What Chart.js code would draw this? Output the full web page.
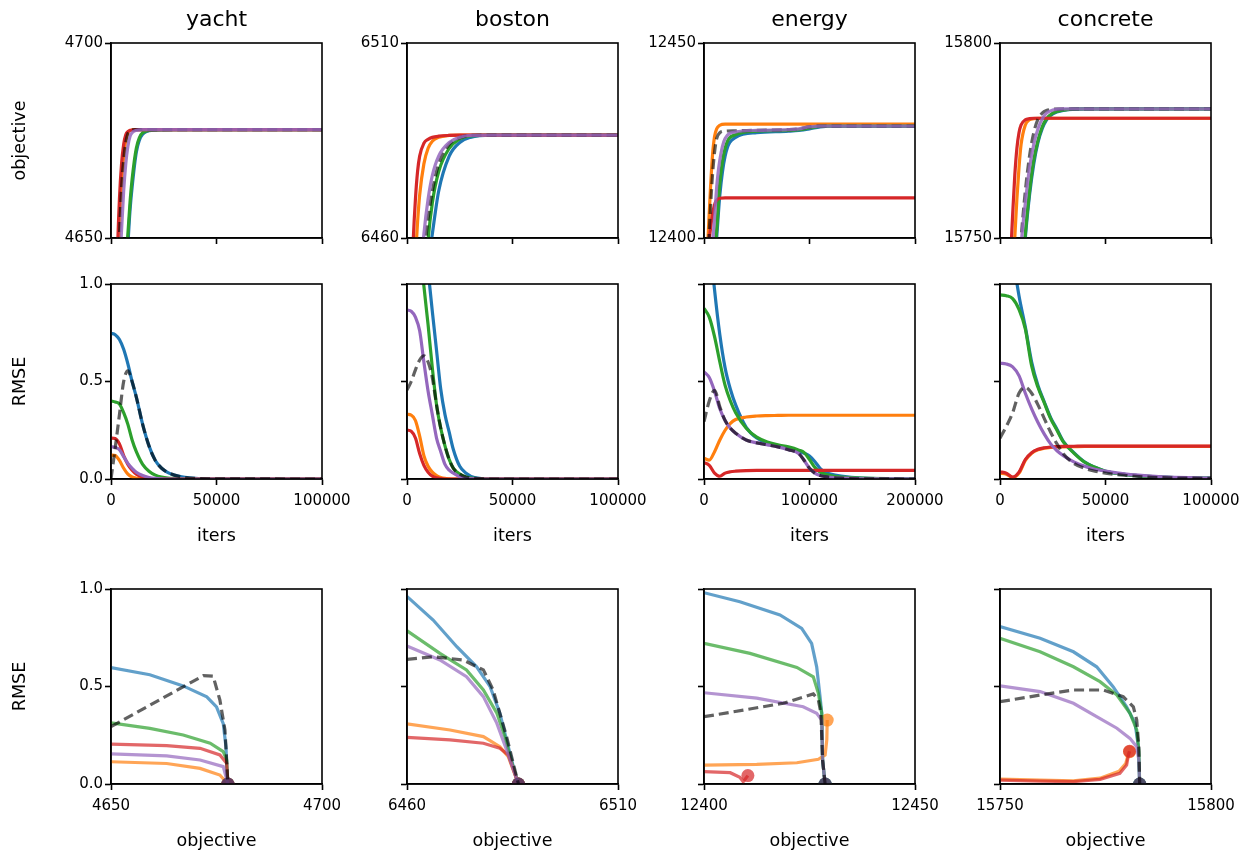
<!DOCTYPE html>
<html><head><meta charset="utf-8">
<script src="https://cdn.jsdelivr.net/npm/chart.js@4.4.1/dist/chart.umd.min.js"></script>
<style>
html,body{margin:0;padding:0;background:#fff;}
body{width:1257px;height:856px;position:relative;overflow:hidden;}
canvas{position:absolute;}
</style></head><body>
<script>
// ---------------- data ----------------
const datasetNames = ['yacht', 'boston', 'energy', 'concrete'];
const objRanges = [[4650, 4700], [6460, 6510], [12400, 12450], [15750, 15800]];
const iterMax = [100000, 100000, 200000, 100000];
const iterTicks = [[0, 50000, 100000], [0, 50000, 100000], [0, 100000, 200000], [0, 50000, 100000]];
const rmseTicks = [0, 0.5, 1.0];

// Row 1: objective vs iters
const yachtObjIters  = [0, 2000, 3000, 4000, 5000, 6000, 7000, 8000, 9000, 10000, 12000, 15000, 20000, 30000, 100000];
const yachtObjBlue   = [4440, 4510, 4545, 4578, 4602, 4622, 4637, 4648, 4657, 4663, 4672, 4676.6, 4677.6, 4677.8, 4677.8];
const yachtObjOrange = [4540, 4610, 4635, 4652, 4664, 4671, 4675, 4677, 4677.5, 4677.7, 4677.8, 4677.8, 4677.8, 4677.8, 4677.8];
const yachtObjGreen  = [4450, 4520, 4555, 4585, 4608, 4627, 4641, 4651, 4659, 4665, 4673, 4677, 4677.7, 4677.8, 4677.8];
const yachtObjRed    = [4550, 4620, 4645, 4660, 4669, 4674, 4676.5, 4677.3, 4677.6, 4677.7, 4677.8, 4677.8, 4677.8, 4677.8, 4677.8];
const yachtObjPurple = [4520, 4590, 4620, 4640, 4652, 4662, 4669, 4673.5, 4676, 4677, 4677.6, 4677.8, 4677.8, 4677.8, 4677.8];
const yachtObjDashed = [4540, 4605, 4632, 4650, 4663, 4670, 4674.5, 4676.8, 4677.4, 4677.7, 4677.8, 4677.8, 4677.8, 4677.8, 4677.8];

const bostonObjIters  = [0, 2000, 3000, 4000, 5000, 6000, 8000, 10000, 12000, 15000, 20000, 25000, 30000, 40000, 100000];
const bostonObjBlue   = [6350, 6385, 6392, 6400, 6409, 6418, 6435, 6453, 6461, 6472, 6481, 6484.5, 6485.8, 6486.4, 6486.4];
const bostonObjOrange = [6390, 6430, 6445, 6455, 6464, 6471, 6479, 6483, 6484.8, 6485.8, 6486.3, 6486.4, 6486.4, 6486.4, 6486.4];
const bostonObjGreen  = [6360, 6395, 6403, 6410, 6419, 6427, 6443, 6459.5, 6469, 6477, 6483, 6485.4, 6486.2, 6486.4, 6486.4];
const bostonObjRed    = [6400, 6445, 6460, 6470, 6477, 6481, 6484.3, 6485.3, 6485.8, 6486.1, 6486.3, 6486.4, 6486.4, 6486.4, 6486.4];
const bostonObjPurple = [6380, 6415, 6423, 6430, 6440, 6448, 6461, 6470, 6476, 6481, 6484.5, 6485.8, 6486.3, 6486.4, 6486.4];
const bostonObjDashed = [6380, 6412, 6419, 6425, 6434, 6442, 6455, 6465, 6472, 6479, 6484, 6485.7, 6486.3, 6486.4, 6486.4];

const energyObjIters  = [0, 2000, 4000, 6000, 8000, 10000, 12000, 15000, 20000, 30000, 50000, 80000, 90000, 100000, 110000, 120000, 200000];
const energyObjBlue   = [12320, 12345, 12365, 12377, 12386, 12393, 12400, 12411, 12421, 12425.8, 12427, 12427.4, 12427.6, 12428, 12428.5, 12428.7, 12428.7];
const energyObjOrange = [12370, 12390, 12401, 12412, 12421, 12426, 12428, 12428.9, 12429.2, 12429.2, 12429.2, 12429.2, 12429.2, 12429.2, 12429.2, 12429.2, 12429.2];
const energyObjGreen  = [12330, 12352, 12370, 12381, 12390, 12396, 12402, 12414, 12423, 12426.5, 12427.4, 12427.6, 12427.8, 12428.2, 12428.6, 12428.7, 12428.7];
const energyObjRed    = [12370, 12388, 12397, 12402, 12406, 12408.5, 12409.7, 12410.2, 12410.3, 12410.3, 12410.3, 12410.3, 12410.3, 12410.3, 12410.3, 12410.3, 12410.3];
const energyObjPurple = [12340, 12362, 12380, 12390, 12398, 12405, 12413, 12420, 12425.5, 12427.2, 12427.6, 12427.8, 12428, 12428.5, 12428.7, 12428.7, 12428.7];
const energyObjDashed = [12360, 12382, 12396, 12407, 12416, 12422, 12425.5, 12427, 12427.4, 12427.5, 12427.6, 12427.8, 12428, 12428.5, 12428.7, 12428.7, 12428.7];

const concreteObjIters  = [0, 2000, 4000, 5000, 6000, 7000, 8000, 9000, 10000, 12000, 14000, 16000, 18000, 20000, 22000, 25000, 30000, 40000, 100000];
const concreteObjBlue   = [15615, 15646, 15676, 15686, 15696, 15705, 15715, 15724, 15734, 15750, 15761, 15769, 15774.5, 15778, 15780.2, 15781.8, 15782.7, 15783.1, 15783.1];
const concreteObjOrange = [15670, 15700, 15722, 15731, 15740, 15750, 15760, 15768, 15774, 15779, 15780.3, 15780.6, 15780.7, 15780.7, 15780.7, 15780.7, 15780.7, 15780.7, 15780.7];
const concreteObjGreen  = [15620, 15650, 15680, 15690, 15700, 15709, 15718, 15727, 15736, 15751, 15762, 15770, 15775, 15778.5, 15780.5, 15782, 15782.8, 15783.1, 15783.1];
const concreteObjRed    = [15680, 15710, 15735, 15745, 15756, 15766, 15773, 15777, 15779, 15780.3, 15780.6, 15780.7, 15780.7, 15780.7, 15780.7, 15780.7, 15780.7, 15780.7, 15780.7];
const concreteObjPurple = [15640, 15665, 15690, 15700, 15710, 15719, 15728, 15738, 15748, 15759, 15768, 15774, 15778, 15780.5, 15782, 15782.8, 15783.1, 15783.1, 15783.1];
const concreteObjDashed = [15640, 15668, 15695, 15705, 15715, 15725, 15735, 15743, 15750, 15762, 15771, 15777, 15780.5, 15782, 15782.7, 15783, 15783.1, 15783.1, 15783.1];

// Row 2: RMSE vs iters
const yachtRmseIters  = [0, 2000, 4000, 6000, 8000, 10000, 12000, 15000, 18000, 21000, 24000, 27000, 30000, 35000, 40000, 50000, 100000];
const yachtRmseBlue   = [0.747, 0.74, 0.715, 0.665, 0.59, 0.5, 0.42, 0.28, 0.17, 0.095, 0.055, 0.033, 0.02, 0.008, 0.003, 0.001, 0];
const yachtRmseOrange = [0.123, 0.12, 0.095, 0.055, 0.025, 0.01, 0.004, 0.001, 0, 0, 0, 0, 0, 0, 0, 0, 0];
const yachtRmseGreen  = [0.40, 0.395, 0.385, 0.34, 0.28, 0.2, 0.14, 0.075, 0.04, 0.02, 0.01, 0.005, 0.003, 0.001, 0, 0, 0];
const yachtRmseRed    = [0.21, 0.208, 0.18, 0.12, 0.075, 0.045, 0.025, 0.01, 0.004, 0.001, 0, 0, 0, 0, 0, 0, 0];
const yachtRmsePurple = [0.165, 0.163, 0.15, 0.115, 0.08, 0.055, 0.035, 0.018, 0.008, 0.003, 0.001, 0, 0, 0, 0, 0, 0];
const yachtRmseDashed = [0, 0.16, 0.33, 0.5, 0.555, 0.5, 0.42, 0.28, 0.17, 0.095, 0.055, 0.033, 0.02, 0.008, 0.003, 0.001, 0];

const bostonRmseIters  = [0, 2000, 4000, 6000, 8000, 10000, 12000, 14000, 16000, 18000, 20000, 22000, 25000, 28000, 32000, 40000, 100000];
const bostonRmseBlue   = [1.5, 1.49, 1.46, 1.4, 1.28, 1.07, 0.86, 0.66, 0.46, 0.33, 0.24, 0.15, 0.065, 0.03, 0.008, 0.001, 0];
const bostonRmseOrange = [0.332, 0.328, 0.3, 0.22, 0.12, 0.065, 0.035, 0.018, 0.008, 0.003, 0.001, 0, 0, 0, 0, 0, 0];
const bostonRmseGreen  = [1.45, 1.42, 1.36, 1.22, 0.99, 0.79, 0.57, 0.38, 0.26, 0.17, 0.1, 0.055, 0.025, 0.01, 0.003, 0, 0];
const bostonRmseRed    = [0.251, 0.245, 0.21, 0.13, 0.07, 0.035, 0.015, 0.006, 0.002, 0, 0, 0, 0, 0, 0, 0, 0];
const bostonRmsePurple = [0.867, 0.86, 0.83, 0.76, 0.6, 0.45, 0.33, 0.21, 0.14, 0.075, 0.045, 0.03, 0.012, 0.004, 0.001, 0, 0];
const bostonRmseDashed = [0.456, 0.5, 0.56, 0.61, 0.632, 0.6, 0.52, 0.38, 0.26, 0.17, 0.1, 0.055, 0.025, 0.01, 0.003, 0, 0];

const energyRmseIters  = [0, 5000, 10000, 15000, 20000, 25000, 30000, 40000, 50000, 60000, 70000, 80000, 90000, 95000, 100000, 105000, 110000, 115000, 120000, 130000, 150000, 200000];
const energyRmseBlue   = [1.6, 1.25, 0.97, 0.74, 0.57, 0.46, 0.38, 0.265, 0.21, 0.185, 0.17, 0.158, 0.143, 0.132, 0.118, 0.09, 0.055, 0.035, 0.025, 0.015, 0.005, 0];
const energyRmseOrange = [0.106, 0.097, 0.14, 0.2, 0.25, 0.285, 0.305, 0.318, 0.323, 0.325, 0.326, 0.327, 0.327, 0.327, 0.327, 0.327, 0.327, 0.327, 0.327, 0.327, 0.327, 0.327];
const energyRmseGreen  = [0.875, 0.83, 0.73, 0.6, 0.48, 0.4, 0.34, 0.26, 0.215, 0.19, 0.175, 0.165, 0.148, 0.135, 0.1, 0.06, 0.035, 0.024, 0.018, 0.01, 0.004, 0];
const energyRmseRed    = [0.084, 0.07, 0.03, 0.014, 0.03, 0.037, 0.04, 0.043, 0.044, 0.044, 0.044, 0.044, 0.044, 0.044, 0.044, 0.044, 0.044, 0.044, 0.044, 0.044, 0.044, 0.044];
const energyRmsePurple = [0.55, 0.52, 0.45, 0.36, 0.3, 0.26, 0.235, 0.2, 0.185, 0.175, 0.165, 0.15, 0.13, 0.095, 0.055, 0.03, 0.018, 0.012, 0.008, 0.004, 0.001, 0];
const energyRmseDashed = [0.294, 0.4, 0.455, 0.37, 0.3, 0.26, 0.235, 0.2, 0.185, 0.175, 0.165, 0.15, 0.13, 0.095, 0.055, 0.03, 0.018, 0.012, 0.008, 0.004, 0.001, 0];

const concreteRmseIters  = [0, 3000, 6000, 9000, 12000, 15000, 18000, 21000, 24000, 27000, 30000, 35000, 40000, 45000, 50000, 60000, 70000, 80000, 100000];
const concreteRmseBlue   = [1.6, 1.4, 1.15, 0.94, 0.78, 0.6, 0.48, 0.395, 0.315, 0.255, 0.193, 0.135, 0.088, 0.06, 0.04, 0.022, 0.013, 0.008, 0.004];
const concreteRmseOrange = [0.03, 0.025, 0.008, 0.03, 0.095, 0.132, 0.15, 0.158, 0.162, 0.164, 0.165, 0.166, 0.167, 0.167, 0.167, 0.167, 0.167, 0.167, 0.167];
const concreteRmseGreen  = [0.944, 0.94, 0.925, 0.87, 0.77, 0.58, 0.47, 0.39, 0.31, 0.25, 0.19, 0.133, 0.087, 0.06, 0.04, 0.022, 0.013, 0.008, 0.004];
const concreteRmseRed    = [0.037, 0.03, 0.01, 0.035, 0.1, 0.135, 0.152, 0.16, 0.164, 0.166, 0.167, 0.168, 0.169, 0.169, 0.169, 0.169, 0.169, 0.169, 0.169];
const concreteRmsePurple = [0.593, 0.59, 0.575, 0.53, 0.44, 0.36, 0.29, 0.23, 0.18, 0.145, 0.12, 0.088, 0.066, 0.05, 0.04, 0.025, 0.016, 0.01, 0.005];
const concreteRmseDashed = [0.209, 0.27, 0.34, 0.44, 0.47, 0.44, 0.38, 0.31, 0.24, 0.18, 0.13, 0.08, 0.055, 0.04, 0.03, 0.018, 0.01, 0.006, 0.003];

// Row 3: RMSE vs objective  ([objective, RMSE] pairs)
const yachtFrontBlue   = [[4640, 0.625], [4650, 0.597], [4659.2, 0.56], [4667.1, 0.503], [4672.7, 0.447], [4675, 0.396], [4676.6, 0.31], [4677.25, 0.19], [4677.55, 0.02], [4677.7, 0]];
const yachtFrontOrange = [[4640, 0.118], [4650, 0.114], [4663.2, 0.105], [4671.1, 0.08], [4675.8, 0.046], [4677.7, 0]];
const yachtFrontGreen  = [[4640, 0.325], [4650, 0.314], [4659.2, 0.285], [4667.1, 0.251], [4673.5, 0.209], [4676.6, 0.166], [4677.4, 0.123], [4677.7, 0]];
const yachtFrontRed    = [[4640, 0.21], [4650, 0.205], [4663.2, 0.197], [4671.1, 0.183], [4675.8, 0.149], [4677.4, 0.106], [4677.7, 0]];
const yachtFrontPurple = [[4640, 0.16], [4650, 0.154], [4663.2, 0.144], [4671.1, 0.123], [4676.6, 0.089], [4677.7, 0]];
const yachtFrontDashed = [[4650, 0.294], [4671.9, 0.556], [4674.2, 0.553], [4675.8, 0.431], [4677, 0.277], [4677.4, 0.123], [4677.7, 0]];

const bostonFrontBlue   = [[6458, 0.99], [6460, 0.962], [6466.2, 0.841], [6471.8, 0.704], [6476.5, 0.601], [6479.7, 0.499], [6482, 0.363], [6484, 0.191], [6485.6, 0.055], [6486.4, 0]];
const bostonFrontOrange = [[6458, 0.31], [6460, 0.308], [6470.2, 0.277], [6478.1, 0.243], [6482, 0.191], [6484, 0.14], [6486.4, 0]];
const bostonFrontGreen  = [[6458, 0.8], [6460, 0.786], [6467.8, 0.67], [6474.1, 0.585], [6478.1, 0.482], [6481.3, 0.363], [6483.2, 0.243], [6484.4, 0.14], [6486.4, 0]];
const bostonFrontRed    = [[6458, 0.24], [6460, 0.239], [6470.2, 0.226], [6478.1, 0.209], [6482, 0.183], [6484, 0.149], [6486.4, 0]];
const bostonFrontPurple = [[6458, 0.72], [6460, 0.708], [6467.8, 0.636], [6474.1, 0.55], [6478.1, 0.448], [6481.3, 0.311], [6483.6, 0.174], [6486.4, 0]];
const bostonFrontDashed = [[6460, 0.639], [6466.2, 0.653], [6473.3, 0.636], [6478.1, 0.585], [6480.4, 0.482], [6482, 0.363], [6483.6, 0.243], [6486.4, 0]];

const energyFrontBlue   = [[12400, 0.981], [12408.5, 0.935], [12418, 0.867], [12423.15, 0.798], [12425.5, 0.721], [12426.7, 0.601], [12427.5, 0.448], [12427.9, 0.363], [12428.1, 0.123], [12428.7, 0]];
const energyFrontOrange = [[12400, 0.097], [12412.5, 0.101], [12422, 0.109], [12427.1, 0.127], [12428.7, 0.149], [12429.1, 0.226], [12429.2, 0.328]];
const energyFrontGreen  = [[12400, 0.721], [12410.9, 0.67], [12422, 0.598], [12425.9, 0.55], [12427.1, 0.465], [12427.9, 0.363], [12428.1, 0.123], [12428.7, 0]];
const energyFrontRed    = [[12400, 0.063], [12406.2, 0.058], [12408.5, 0.035], [12409.3, 0.012], [12410.4, 0.043]];
const energyFrontPurple = [[12400, 0.468], [12412.5, 0.44], [12423.5, 0.396], [12426.7, 0.363], [12427.9, 0.328], [12428.1, 0.123], [12428.7, 0]];
const energyFrontDashed = [[12400, 0.345], [12409.3, 0.379], [12418.8, 0.414], [12425.9, 0.462], [12427.1, 0.431], [12427.7, 0.363], [12428.1, 0.123], [12428.7, 0]];

const concreteFrontBlue   = [[15748, 0.815], [15750, 0.807], [15759.5, 0.747], [15767.4, 0.678], [15772.9, 0.601], [15776.8, 0.499], [15780, 0.396], [15782, 0.311], [15782.8, 0.191], [15783.1, 0]];
const concreteFrontOrange = [[15748, 0.026], [15750, 0.025], [15759.5, 0.02], [15767.4, 0.016], [15773.7, 0.03], [15778.2, 0.065], [15779.8, 0.105], [15780.3, 0.145], [15780.7, 0.166]];
const concreteFrontGreen  = [[15748, 0.755], [15750, 0.747], [15759.5, 0.678], [15767.4, 0.601], [15773.7, 0.525], [15777.7, 0.456], [15780.8, 0.363], [15782.4, 0.277], [15782.9, 0.17], [15783.1, 0]];
const concreteFrontRed    = [[15748, 0.022], [15750, 0.02], [15759.5, 0.015], [15767.4, 0.012], [15773.7, 0.024], [15778.4, 0.055], [15780, 0.097], [15780.4, 0.145], [15780.7, 0.168]];
const concreteFrontPurple = [[15748, 0.51], [15750, 0.503], [15759.5, 0.474], [15767.4, 0.414], [15772.9, 0.345], [15777.7, 0.286], [15780.8, 0.234], [15782.4, 0.191], [15782.9, 0.123], [15783.1, 0]];
const concreteFrontDashed = [[15750, 0.422], [15759.5, 0.456], [15767.4, 0.482], [15774.5, 0.482], [15779.2, 0.448], [15781.6, 0.396], [15782.4, 0.328], [15782.9, 0.191], [15783.1, 0]];

// ---------------- assembly ----------------
const seriesKeys = ['blue', 'orange', 'green', 'red', 'purple', 'dashed'];
const seriesRGB = {blue: '31,119,180', orange: '255,127,14', green: '44,160,44', red: '214,39,40', purple: '148,103,189', dashed: '0,0,0'};

const objRows = [
  {iters: yachtObjIters, blue: yachtObjBlue, orange: yachtObjOrange, green: yachtObjGreen, red: yachtObjRed, purple: yachtObjPurple, dashed: yachtObjDashed},
  {iters: bostonObjIters, blue: bostonObjBlue, orange: bostonObjOrange, green: bostonObjGreen, red: bostonObjRed, purple: bostonObjPurple, dashed: bostonObjDashed},
  {iters: energyObjIters, blue: energyObjBlue, orange: energyObjOrange, green: energyObjGreen, red: energyObjRed, purple: energyObjPurple, dashed: energyObjDashed},
  {iters: concreteObjIters, blue: concreteObjBlue, orange: concreteObjOrange, green: concreteObjGreen, red: concreteObjRed, purple: concreteObjPurple, dashed: concreteObjDashed}
];
const rmseRows = [
  {iters: yachtRmseIters, blue: yachtRmseBlue, orange: yachtRmseOrange, green: yachtRmseGreen, red: yachtRmseRed, purple: yachtRmsePurple, dashed: yachtRmseDashed},
  {iters: bostonRmseIters, blue: bostonRmseBlue, orange: bostonRmseOrange, green: bostonRmseGreen, red: bostonRmseRed, purple: bostonRmsePurple, dashed: bostonRmseDashed},
  {iters: energyRmseIters, blue: energyRmseBlue, orange: energyRmseOrange, green: energyRmseGreen, red: energyRmseRed, purple: energyRmsePurple, dashed: energyRmseDashed},
  {iters: concreteRmseIters, blue: concreteRmseBlue, orange: concreteRmseOrange, green: concreteRmseGreen, red: concreteRmseRed, purple: concreteRmsePurple, dashed: concreteRmseDashed}
];
const frontRows = [
  {blue: yachtFrontBlue, orange: yachtFrontOrange, green: yachtFrontGreen, red: yachtFrontRed, purple: yachtFrontPurple, dashed: yachtFrontDashed},
  {blue: bostonFrontBlue, orange: bostonFrontOrange, green: bostonFrontGreen, red: bostonFrontRed, purple: bostonFrontPurple, dashed: bostonFrontDashed},
  {blue: energyFrontBlue, orange: energyFrontOrange, green: energyFrontGreen, red: energyFrontRed, purple: energyFrontPurple, dashed: energyFrontDashed},
  {blue: concreteFrontBlue, orange: concreteFrontOrange, green: concreteFrontGreen, red: concreteFrontRed, purple: concreteFrontPurple, dashed: concreteFrontDashed}
];

// layout
const L = 101, R = 101, T = 40, B = 75, PW = 211, PH = 195;
const plotLefts = [111, 407, 704, 1000];
const plotTops = [43, 284, 589];

Chart.defaults.font.family = "'DejaVu Sans', sans-serif";
Chart.defaults.color = '#000';

const framePlugin = {
  id: 'frame',
  afterDatasetsDraw(chart) {
    const {ctx, chartArea: a} = chart;
    ctx.save();
    ctx.strokeStyle = '#000';
    ctx.lineWidth = 1.6;
    ctx.strokeRect(a.left, a.top, a.right - a.left, a.bottom - a.top);
    ctx.restore();
  }
};

function makeDataset(key, points, row) {
  let alpha = 1;
  if (key === 'dashed') alpha = 0.62;
  else if (row === 2) alpha = 0.7;
  else if (row === 0 && key === 'purple') alpha = 0.85;
  const color = 'rgba(' + seriesRGB[key] + ',' + alpha + ')';
  const markerColor = key === 'dashed' ? 'rgba(0,0,0,0.35)' : color;
  const order = row === 0
    ? {blue: 6, orange: 5, green: 4, red: 3, dashed: 2, purple: 1}
    : {blue: 6, orange: 5, green: 4, red: 3, purple: 2, dashed: 1};
  const last = points.length - 1;
  return {
    data: points,
    showLine: true,
    borderColor: color,
    backgroundColor: markerColor,
    pointBackgroundColor: markerColor,
    borderWidth: 3.2,
    borderDash: key === 'dashed' ? [10, 5] : [],
    pointRadius: row === 2 ? (c => c.dataIndex === last ? 6.5 : 0) : 0,
    pointHoverRadius: 0,
    pointBorderWidth: 0,
    cubicInterpolationMode: row === 2 ? 'default' : 'monotone',
    tension: 0,
    clip: 0,
    order: order[key]
  };
}

function scaleCfg(s, isX) {
  return {
    type: 'linear',
    position: isX ? 'bottom' : 'left',
    min: s.min, max: s.max,
    afterBuildTicks: sc => { sc.ticks = s.ticks.map(v => ({value: v})); },
    afterFit: sc => { if (isX) sc.height = B; else sc.width = L; },
    ticks: {
      autoSkip: false, maxRotation: 0, minRotation: 0, color: '#000',
      font: {size: 15}, padding: isX ? 7 : 2,
      callback: v => s.labels ? s.fmt(v) : ''
    },
    grid: {display: true, drawOnChartArea: false, drawTicks: true, tickLength: 6, tickWidth: 1.6, tickColor: '#000', color: '#000'},
    border: {display: true, color: '#000', width: 1.6},
    title: {
      display: !!s.title, text: s.title || '', color: '#000', font: {size: 17.5},
      padding: isX ? {top: 0, bottom: 7.5} : {top: 0, bottom: 0}
    }
  };
}

// empty right-hand axis that only reserves the right margin (keeps the title centred on the plot)
const spacerAxis = {
  type: 'linear', position: 'right', display: true,
  grid: {display: false}, border: {display: false}, ticks: {display: false},
  afterFit: sc => { sc.width = R; }
};

function makePanel(col, row, datasets, xs, ys) {
  const cv = document.createElement('canvas');
  cv.width = L + PW + R;
  cv.height = T + PH + B;
  cv.style.left = (plotLefts[col] - L) + 'px';
  cv.style.top = (plotTops[row] - T) + 'px';
  document.body.appendChild(cv);
  new Chart(cv, {
    type: 'scatter',
    data: {datasets},
    options: {
      responsive: false, animation: false, devicePixelRatio: 1,
      layout: {padding: {top: row === 0 ? 0 : T, right: 0, left: 0, bottom: 0}},
      events: [],
      plugins: {
        legend: {display: false},
        tooltip: {enabled: false},
        title: {
          display: row === 0, text: datasetNames[col], color: '#000',
          font: {size: 22, weight: 'normal'}, padding: {top: 3.8, bottom: 9.8}
        }
      },
      scales: {x: scaleCfg(xs, true), y: scaleCfg(ys, false), yspace: spacerAxis}
    },
    plugins: [framePlugin]
  });
}

const fmtInt = v => String(v);
const fmtRmse = v => v.toFixed(1);

for (let c = 0; c < 4; c++) {
  const [omin, omax] = objRanges[c];
  const o = objRows[c];
  makePanel(c, 0,
    seriesKeys.map(k => makeDataset(k, o.iters.map((x, i) => ({x, y: o[k][i]})), 0)),
    {min: 0, max: iterMax[c], ticks: iterTicks[c], labels: false, fmt: fmtInt},
    {min: omin, max: omax, ticks: [omin, omax], labels: true, fmt: fmtInt, title: c === 0 ? 'objective' : ''});
  const r = rmseRows[c];
  makePanel(c, 1,
    seriesKeys.map(k => makeDataset(k, r.iters.map((x, i) => ({x, y: r[k][i]})), 1)),
    {min: 0, max: iterMax[c], ticks: iterTicks[c], labels: true, fmt: fmtInt, title: 'iters'},
    {min: 0, max: 1, ticks: rmseTicks, labels: c === 0, fmt: fmtRmse, title: c === 0 ? 'RMSE' : ''});
  const f = frontRows[c];
  makePanel(c, 2,
    seriesKeys.map(k => makeDataset(k, f[k].map(p => ({x: p[0], y: p[1]})), 2)),
    {min: omin, max: omax, ticks: [omin, omax], labels: true, fmt: fmtInt, title: 'objective'},
    {min: 0, max: 1, ticks: rmseTicks, labels: c === 0, fmt: fmtRmse, title: c === 0 ? 'RMSE' : ''});
}
</script>
</body></html>
